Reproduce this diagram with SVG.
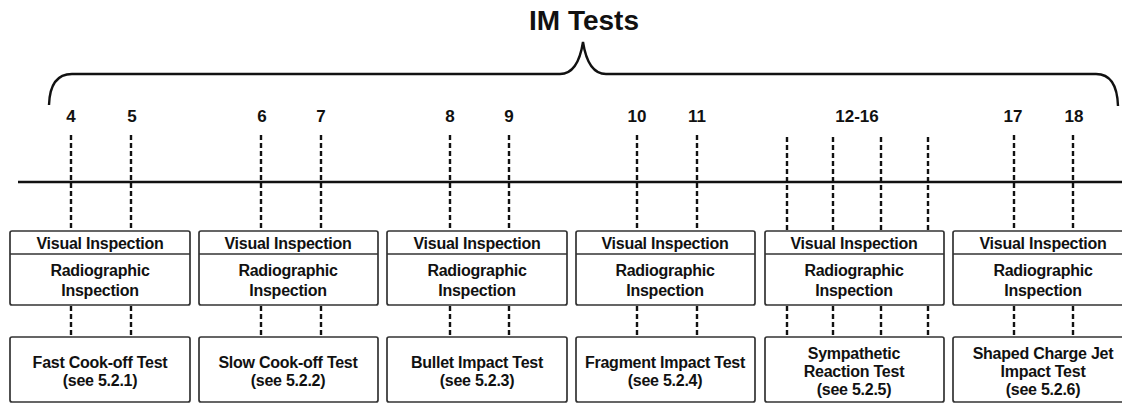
<svg xmlns="http://www.w3.org/2000/svg" width="1122" height="404" viewBox="0 0 1122 404">
<style>
text{font-family:"Liberation Sans",Arial,sans-serif;font-weight:bold;fill:#111;text-anchor:middle}
.title{font-size:28px}
.num{font-size:17px}
.lbl{font-size:16px;letter-spacing:-0.25px}
.box{fill:#fff;stroke:#333;stroke-width:1.7}
.div{stroke:#333;stroke-width:1.7}
.dash{stroke:#111;stroke-width:2.4;stroke-dasharray:5,3;fill:none}
.solid{stroke:#111;stroke-width:2.4;fill:none}
</style>
<rect width="1122" height="404" fill="#fff"/>
<g id="title">
<text class="title" x="584" y="30">IM Tests</text>
<path class="solid" d="M49,105 Q50,74 72,74 L560,74 Q578,74 583,42 Q588,74 606,74 L1096,74 Q1117,74 1118,106"/>
</g>
<g id="numbers">
<text class="num" x="71" y="122">4</text>
<text class="num" x="132" y="122">5</text>
<text class="num" x="262" y="122">6</text>
<text class="num" x="321" y="122">7</text>
<text class="num" x="450" y="122">8</text>
<text class="num" x="509" y="122">9</text>
<text class="num" x="637" y="122">10</text>
<text class="num" x="697" y="122">11</text>
<text class="num" x="857" y="122">12-16</text>
<text class="num" x="1013" y="122">17</text>
<text class="num" x="1074" y="122">18</text>
</g>
<g id="connectors">
<line class="solid" x1="18" y1="182" x2="1122" y2="182"/>
<g class="dash">
<path d="M71,135V230M131,135V230M261,135V230M321,135V230M450,135V230M509,135V230M637,135V230M697,135V230M787,137V230M833,137V230M881,137V230M928,137V230M1014,135V230M1073,135V230"/>
<path d="M71,306V337M131,306V337M261,306V337M321,306V337M450,306V337M509,306V337M637,306V337M697,306V337M787,306V337M833,306V337M881,306V337M928,306V337M1014,306V337M1073,306V337"/>
</g>
</g>
<g id="insp1">
<rect class="box" x="10" y="231" width="180" height="74" rx="2"/>
<line class="div" x1="10" y1="254" x2="190" y2="254"/>
<text class="lbl" x="100" y="249">Visual Inspection</text>
<text class="lbl" x="100" y="276">Radiographic</text>
<text class="lbl" x="100" y="296">Inspection</text>
</g>
<g id="insp2">
<rect class="box" x="199" y="231" width="179" height="74" rx="2"/>
<line class="div" x1="199" y1="254" x2="378" y2="254"/>
<text class="lbl" x="288" y="249">Visual Inspection</text>
<text class="lbl" x="288" y="276">Radiographic</text>
<text class="lbl" x="288" y="296">Inspection</text>
</g>
<g id="insp3">
<rect class="box" x="387" y="231" width="180" height="74" rx="2"/>
<line class="div" x1="387" y1="254" x2="567" y2="254"/>
<text class="lbl" x="477" y="249">Visual Inspection</text>
<text class="lbl" x="477" y="276">Radiographic</text>
<text class="lbl" x="477" y="296">Inspection</text>
</g>
<g id="insp4">
<rect class="box" x="576" y="231" width="179" height="74" rx="2"/>
<line class="div" x1="576" y1="254" x2="755" y2="254"/>
<text class="lbl" x="665" y="249">Visual Inspection</text>
<text class="lbl" x="665" y="276">Radiographic</text>
<text class="lbl" x="665" y="296">Inspection</text>
</g>
<g id="insp5">
<rect class="box" x="765" y="231" width="179" height="74" rx="2"/>
<line class="div" x1="765" y1="254" x2="944" y2="254"/>
<text class="lbl" x="854" y="249">Visual Inspection</text>
<text class="lbl" x="854" y="276">Radiographic</text>
<text class="lbl" x="854" y="296">Inspection</text>
</g>
<g id="insp6">
<rect class="box" x="953" y="231" width="180" height="74" rx="2"/>
<line class="div" x1="953" y1="254" x2="1133" y2="254"/>
<text class="lbl" x="1043" y="249">Visual Inspection</text>
<text class="lbl" x="1043" y="276">Radiographic</text>
<text class="lbl" x="1043" y="296">Inspection</text>
</g>
<g id="test1">
<rect class="box" x="10" y="337" width="180" height="65" rx="2"/>
<text class="lbl" x="100" y="368">Fast Cook-off Test</text>
<text class="lbl" x="100" y="386">(see 5.2.1)</text>
</g>
<g id="test2">
<rect class="box" x="199" y="337" width="179" height="65" rx="2"/>
<text class="lbl" x="288" y="368">Slow Cook-off Test</text>
<text class="lbl" x="288" y="386">(see 5.2.2)</text>
</g>
<g id="test3">
<rect class="box" x="387" y="337" width="180" height="65" rx="2"/>
<text class="lbl" x="477" y="368">Bullet Impact Test</text>
<text class="lbl" x="477" y="386">(see 5.2.3)</text>
</g>
<g id="test4">
<rect class="box" x="576" y="337" width="179" height="65" rx="2"/>
<text class="lbl" x="665" y="368">Fragment Impact Test</text>
<text class="lbl" x="665" y="386">(see 5.2.4)</text>
</g>
<g id="test5">
<rect class="box" x="765" y="337" width="179" height="65" rx="2"/>
<text class="lbl" x="854" y="359">Sympathetic</text>
<text class="lbl" x="854" y="377">Reaction Test</text>
<text class="lbl" x="854" y="395">(see 5.2.5)</text>
</g>
<g id="test6">
<rect class="box" x="953" y="337" width="180" height="65" rx="2"/>
<text class="lbl" x="1043" y="359">Shaped Charge Jet</text>
<text class="lbl" x="1043" y="377">Impact Test</text>
<text class="lbl" x="1043" y="395">(see 5.2.6)</text>
</g>
</svg>
